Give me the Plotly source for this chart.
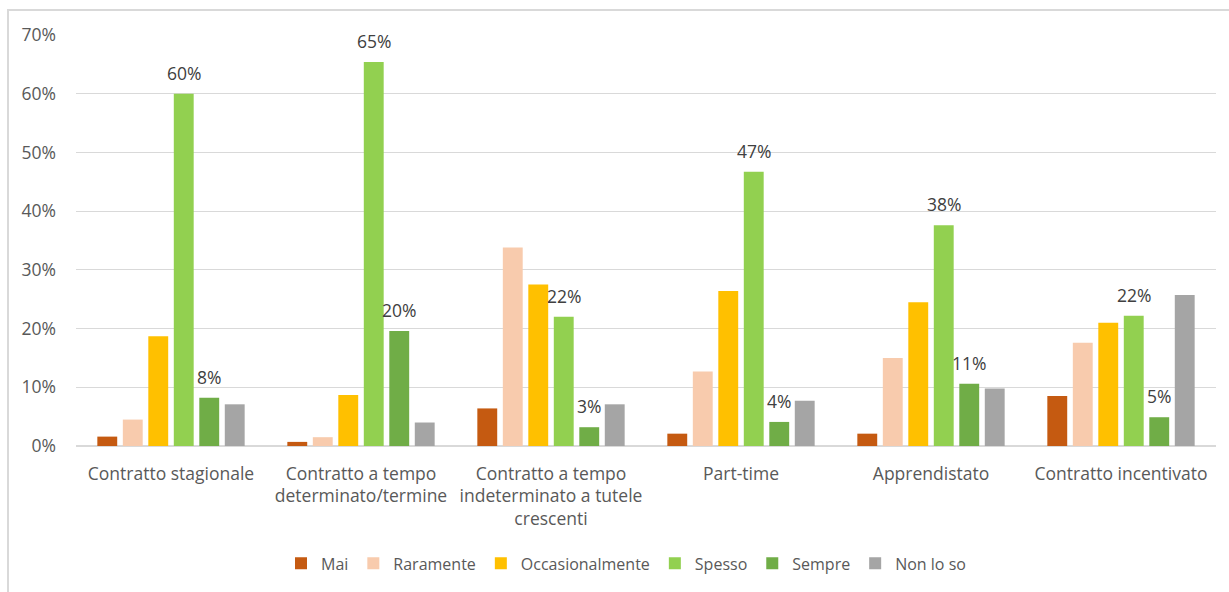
import plotly.graph_objects as go

categories = [
    "Contratto stagionale",
    "Contratto a tempo<br>determinato/termine",
    "Contratto a tempo<br>indeterminato a tutele<br>crescenti",
    "Part-time",
    "Apprendistato",
    "Contratto incentivato",
]

series_names = ["Mai", "Raramente", "Occasionalmente", "Spesso", "Sempre", "Non lo so"]

mai = [0.016, 0.007, 0.064, 0.021, 0.021, 0.085]
raramente = [0.045, 0.015, 0.338, 0.127, 0.150, 0.176]
occasionalmente = [0.187, 0.087, 0.275, 0.264, 0.245, 0.210]
spesso = [0.600, 0.654, 0.220, 0.467, 0.376, 0.222]
sempre = [0.082, 0.196, 0.032, 0.041, 0.106, 0.049]
non_lo_so = [0.071, 0.040, 0.071, 0.077, 0.098, 0.257]

series_values = [mai, raramente, occasionalmente, spesso, sempre, non_lo_so]
colors = ["#C55A11", "#F8CBAD", "#FFC000", "#92D050", "#70AD47", "#A5A5A5"]
labelled = ["Spesso", "Sempre"]

W, H = 1229, 592
ML, MR, MT, MB = 76, 13, 35, 144
BARGAP = 0.195
font_family = "'Open Sans', sans-serif"
text_color = "#595959"
label_color = "#404040"
axis_font_size = 17.5

pw = W - ML - MR
ph = H - MT - MB

fig = go.Figure()
for name, vals, col in zip(series_names, series_values, colors):
    fig.add_trace(go.Bar(
        name=name,
        x=categories,
        y=vals,
        marker=dict(color=col, line=dict(width=0)),
    ))

# value labels above the "Spesso" and "Sempre" bars, placed over each bar of the group
n_series = len(series_names)
slot_px = (pw / len(categories)) * (1 - BARGAP) / n_series
annotations = []
for name in labelled:
    i = series_names.index(name)
    for cat, v in zip(categories, series_values[i]):
        annotations.append(dict(
            x=cat, y=v, xref="x", yref="y",
            text=f"{v:.0%}",
            showarrow=False,
            xanchor="center", yanchor="middle",
            xshift=(i - (n_series - 1) / 2) * slot_px,
            yshift=21,
            font=dict(size=axis_font_size, color=label_color, family=font_family),
        ))

fig.update_layout(
    width=W, height=H,
    margin=dict(l=ML, r=MR, t=MT, b=MB),
    paper_bgcolor="white",
    plot_bgcolor="white",
    barmode="group",
    bargap=BARGAP,
    bargroupgap=0.22,
    font=dict(family=font_family, size=16, color=text_color),
    showlegend=True,
    legend=dict(
        orientation="h",
        x=(626 - ML) / pw, xanchor="center",
        y=-(566 - (H - MB)) / ph, yanchor="middle",
        font=dict(size=16, color=text_color),
        itemwidth=30,
        traceorder="normal",
    ),
    xaxis=dict(
        showgrid=False,
        showline=False,
        ticks="",
        ticklabelstandoff=15,
        tickfont=dict(size=axis_font_size, color=text_color),
    ),
    yaxis=dict(
        range=[0, 0.7],
        dtick=0.1,
        tickformat=".0%",
        showgrid=True,
        gridcolor="#D9D9D9",
        gridwidth=1,
        zeroline=True,
        zerolinecolor="#D9D9D9",
        zerolinewidth=1.5,
        showline=False,
        ticks="",
        ticklabelstandoff=19,
        tickfont=dict(size=axis_font_size, color=text_color),
    ),
    annotations=annotations,
    shapes=[dict(
        type="rect", xref="paper", yref="paper",
        x0=(8 - ML) / pw, x1=(W + 5 - ML) / pw,
        y0=-(H + 5 - (H - MB)) / ph, y1=1 + (MT - 10) / ph,
        line=dict(color="#D9D9D9", width=2),
        fillcolor="rgba(0,0,0,0)",
        layer="below",
    )],
)

fig.write_html("out.html")
